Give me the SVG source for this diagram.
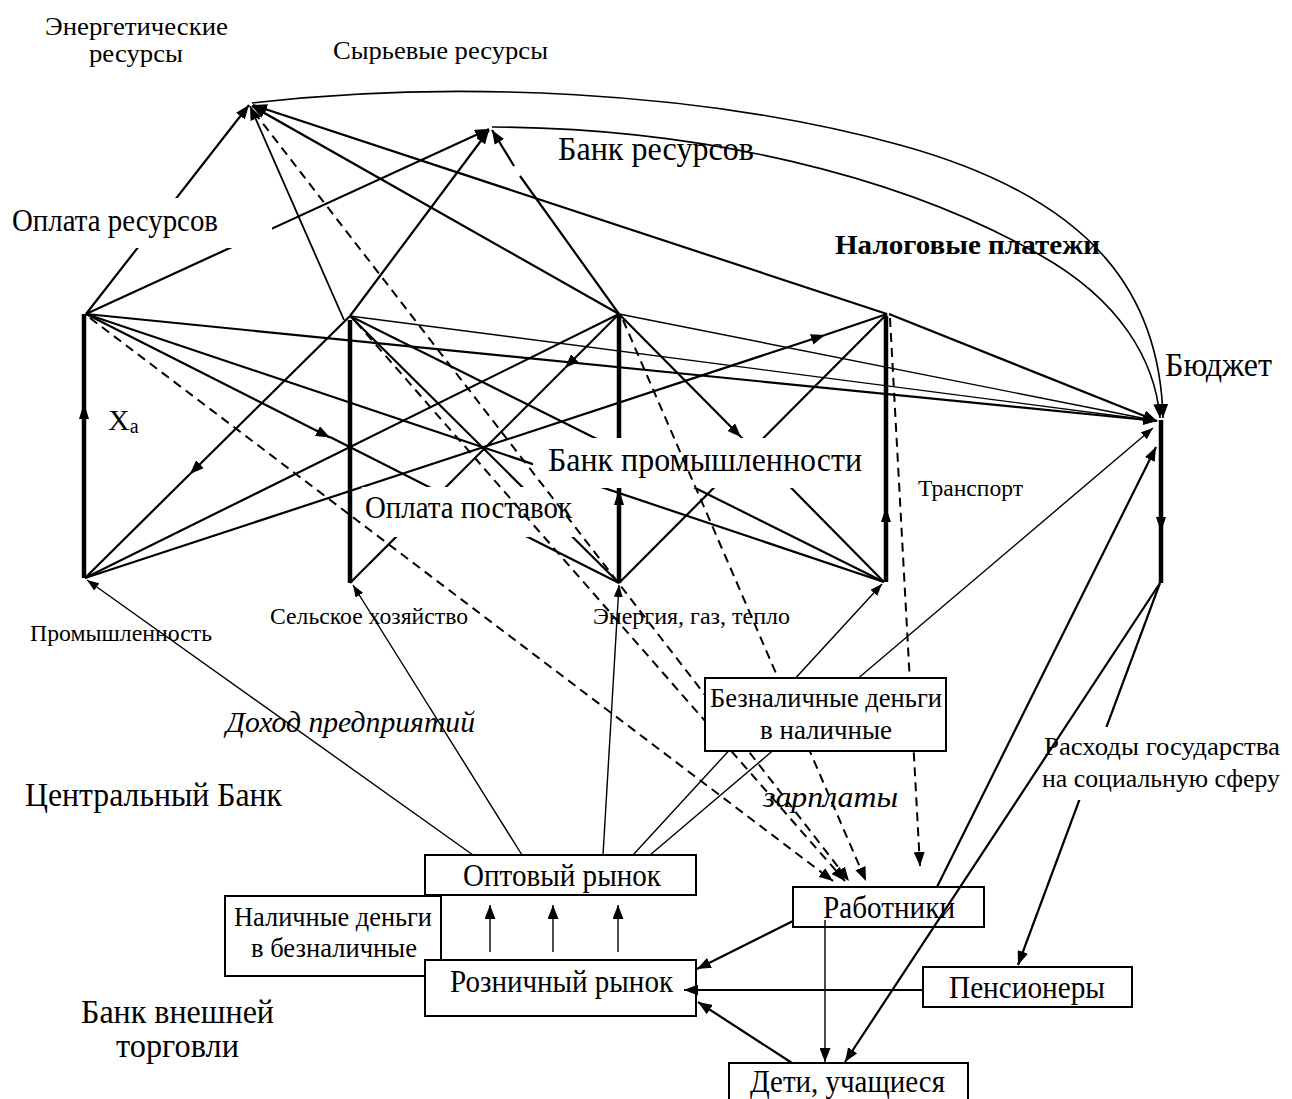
<svg xmlns="http://www.w3.org/2000/svg" width="1292" height="1099" viewBox="0 0 1292 1099">
  <style>
    text { font-family: 'Liberation Serif', 'Times New Roman', serif; fill: #000; }
    .c { fill: none; stroke: #000; stroke-width: 2.2; }
    .m { fill: none; stroke: #000; stroke-width: 1.8; }
    .t { fill: none; stroke: #000; stroke-width: 1.4; }
    .d { fill: none; stroke: #000; stroke-width: 2; stroke-dasharray: 9 6; }
    .arc { fill: none; stroke: #000; stroke-width: 1.6; }
    .bar { fill: none; stroke: #000; stroke-width: 4.5; }
    .box { fill: #fff; stroke: #000; stroke-width: 2; }
    .mask { fill: #fff; stroke: none; }
  </style>
  <defs>
    <marker id="arr" markerUnits="userSpaceOnUse" markerWidth="15" markerHeight="11" refX="14" refY="5.5" orient="auto">
      <path d="M0,0 L14,5.5 L0,11 z" fill="#000"/>
    </marker>
    <marker id="arrS" markerUnits="userSpaceOnUse" markerWidth="13" markerHeight="9" refX="12" refY="4.5" orient="auto">
      <path d="M0,0 L12,4.5 L0,9 z" fill="#000"/>
    </marker>
  </defs>
  <rect width="1292" height="1099" fill="#fff"/>

  <!-- solid flows between sectors, resources and the budget -->
  <g id="connectors">
    <path class="c" d="M86,314 L249,105" marker-end="url(#arr)"/>
    <path class="c" d="M86,314 L489,129" marker-end="url(#arr)"/>
    <path class="m" d="M344,320 L250,106" marker-end="url(#arr)"/>
    <path class="c" d="M350,316 L489,130" marker-end="url(#arr)"/>
    <path class="c" d="M619,314 L252,106" marker-end="url(#arr)"/>
    <path class="c" d="M619,314 L520,176"/>
    <path class="c" d="M514,166 L492,130" marker-end="url(#arr)"/>
    <path class="c" d="M887,314 L253,105" marker-end="url(#arr)"/>
    <path class="c" d="M86,314 L1157,421" marker-end="url(#arr)"/>
    <path class="t" d="M350,316 L1157,421" marker-end="url(#arrS)"/>
    <path class="t" d="M619,314 L1157,421" marker-end="url(#arrS)"/>
    <path class="c" d="M889,314 L1157,421" marker-end="url(#arr)"/>
    <path class="c" d="M86,314 L330,437.5" marker-end="url(#arr)"/>
    <path class="c" d="M330,437 L619,583"/>
    <path class="c" d="M86,314 L884,582"/>
    <path class="c" d="M350,316 L190,474" marker-end="url(#arr)"/>
    <path class="c" d="M190,474 L85,578"/>
    <path class="c" d="M85,578 L619,314"/>
    <path class="c" d="M85,578 L825,335" marker-end="url(#arr)"/>
    <path class="c" d="M825,335 L887,314"/>
    <path class="c" d="M619,314 L565,368" marker-end="url(#arr)"/>
    <path class="c" d="M565,368 L350,583"/>
    <path class="c" d="M619,314 L741,437" marker-end="url(#arr)"/>
    <path class="c" d="M741,437 L884,582"/>
    <path class="c" d="M350,316 L619,583"/>
    <path class="c" d="M350,316 L884,582"/>
    <path class="c" d="M619,583 L887,314"/>
    <path class="t" d="M473,855 L87,580" marker-end="url(#arrS)"/>
    <path class="t" d="M522,855 L353,585" marker-end="url(#arrS)"/>
    <path class="t" d="M603,855 L619,585" marker-end="url(#arrS)"/>
    <path class="t" d="M633,855 L882,584" marker-end="url(#arrS)"/>
    <path class="t" d="M650,855 L1153,428" marker-end="url(#arrS)"/>
    <path class="c" d="M937,887 L1156,447" marker-end="url(#arr)"/>
    <path class="c" d="M1160,583 L1018,965" marker-end="url(#arr)"/>
    <path class="arc" d="M252,103 C450,80 700,90 900,145 S1160,300 1163,418" marker-end="url(#arr)"/>
    <path class="arc" d="M492,127 C700,128 900,175 1040,255 C1120,300 1155,360 1160,418" marker-end="url(#arr)"/>
  </g>

  <!-- sector columns -->
  <g id="industry">
    <path class="bar" d="M84,314 L84,578"/>
    <polygon points="84,403 79,419 89,419"/>
    <text x="30" y="641" font-size="24" textLength="182" lengthAdjust="spacingAndGlyphs">Промышленность</text>
    <text x="108" y="430" font-size="30">X<tspan font-size="20" dy="3">a</tspan></text>
  </g>
  <g id="agriculture">
    <path class="bar" d="M350,320 L350,583"/>
    <text x="270" y="624" font-size="24" textLength="198" lengthAdjust="spacingAndGlyphs">Сельское хозяйство</text>
  </g>
  <g id="energy">
    <path class="bar" d="M619,316 L619,583"/>
    <text x="593" y="624" font-size="24" textLength="197" lengthAdjust="spacingAndGlyphs">Энергия, газ, тепло</text>
  </g>
  <g id="transport">
    <path class="bar" d="M886,316 L886,582"/>
    <polygon points="886,507 881,522 891,522"/>
    <text x="918" y="496" font-size="24" textLength="105" lengthAdjust="spacingAndGlyphs">Транспорт</text>
  </g>
  <g id="budget">
    <path class="bar" d="M1161,420 L1161,583"/>
    <polygon points="1161,532 1156,517 1166,517"/>
    <text x="1165" y="376" font-size="34" textLength="107" lengthAdjust="spacingAndGlyphs">Бюджет</text>
  </g>

  <!-- label backgrounds that interrupt the lines -->
  <g id="label-backs">
    <rect class="mask" x="0" y="198" width="272" height="50"/>
    <rect class="mask" x="533" y="438" width="337" height="50"/>
    <rect class="mask" x="362" y="487" width="214" height="50"/>
    <rect class="mask" x="1042" y="727" width="250" height="73"/>
  </g>
  <polygon points="619,489 614,505 624,505"/>

  <!-- wage flows to workers -->
  <g id="wage-connectors">
    <path class="d" d="M90,318 L833,881" marker-end="url(#arr)"/>
    <path class="d" d="M254,112 L849,881" marker-end="url(#arr)"/>
    <path class="d" d="M356,322 L845,881" marker-end="url(#arr)"/>
    <path class="d" d="M623,320 L866,881" marker-end="url(#arr)"/>
    <path class="d" d="M890,318 L920,866" marker-end="url(#arr)"/>
  </g>

  <!-- resources -->
  <g id="energy-resources">
    <text x="45" y="35" font-size="26" textLength="183" lengthAdjust="spacingAndGlyphs">Энергетические</text>
    <text x="89" y="62" font-size="26" textLength="94" lengthAdjust="spacingAndGlyphs">ресурсы</text>
  </g>
  <g id="raw-resources">
    <text x="333" y="59" font-size="26" textLength="215" lengthAdjust="spacingAndGlyphs">Сырьевые ресурсы</text>
  </g>

  <!-- free labels -->
  <g id="labels">
    <text x="558" y="160" font-size="33" textLength="196" lengthAdjust="spacingAndGlyphs">Банк ресурсов</text>
    <text x="12" y="231" font-size="31" textLength="206" lengthAdjust="spacingAndGlyphs">Оплата ресурсов</text>
    <text x="835" y="254" font-size="27" font-weight="bold" textLength="265" lengthAdjust="spacingAndGlyphs">Налоговые платежи</text>
    <text x="548" y="471" font-size="34" textLength="314" lengthAdjust="spacingAndGlyphs">Банк промышленности</text>
    <text x="365" y="518" font-size="32" textLength="207" lengthAdjust="spacingAndGlyphs">Оплата поставок</text>
    <text x="226" y="732" font-size="30" font-style="italic" textLength="249" lengthAdjust="spacingAndGlyphs">Доход предприятий</text>
    <text x="25" y="806" font-size="34" textLength="257" lengthAdjust="spacingAndGlyphs">Центральный Банк</text>
    <text x="81" y="1023" font-size="34" textLength="193" lengthAdjust="spacingAndGlyphs">Банк внешней</text>
    <text x="116" y="1057" font-size="34" textLength="123" lengthAdjust="spacingAndGlyphs">торговли</text>
    <text x="763" y="807" font-size="30" font-style="italic" textLength="135" lengthAdjust="spacingAndGlyphs">зарплаты</text>
    <text x="1044" y="755" font-size="26" textLength="236" lengthAdjust="spacingAndGlyphs">Расходы государства</text>
    <text x="1042" y="787" font-size="26" textLength="238" lengthAdjust="spacingAndGlyphs">на социальную сферу</text>
  </g>

  <!-- boxes -->
  <g id="cashless-to-cash">
    <rect class="box" x="705" y="678" width="241" height="73"/>
    <text x="710" y="707" font-size="28" textLength="232" lengthAdjust="spacingAndGlyphs">Безналичные деньги</text>
    <text x="760" y="739" font-size="28" textLength="132" lengthAdjust="spacingAndGlyphs">в наличные</text>
  </g>
  <g id="wholesale">
    <rect class="box" x="425" y="855" width="271" height="40"/>
    <text x="463" y="886" font-size="31" textLength="198" lengthAdjust="spacingAndGlyphs">Оптовый рынок</text>
  </g>
  <g id="cash-to-cashless">
    <rect class="box" x="225" y="896" width="216" height="80"/>
    <text x="234" y="926" font-size="28" textLength="198" lengthAdjust="spacingAndGlyphs">Наличные деньги</text>
    <text x="251" y="957" font-size="28" textLength="166" lengthAdjust="spacingAndGlyphs">в безналичные</text>
  </g>
  <g id="retail">
    <rect class="box" x="425" y="960" width="271" height="56"/>
    <text x="450" y="992" font-size="31" textLength="223" lengthAdjust="spacingAndGlyphs">Розничный рынок</text>
  </g>
  <g id="workers">
    <rect class="box" x="793" y="887" width="191" height="40"/>
    <text x="823" y="918" font-size="31" textLength="132" lengthAdjust="spacingAndGlyphs">Работники</text>
  </g>
  <g id="pensioners">
    <rect class="box" x="923" y="967" width="209" height="40"/>
    <text x="949" y="998" font-size="31" textLength="156" lengthAdjust="spacingAndGlyphs">Пенсионеры</text>
  </g>
  <g id="children">
    <rect class="box" x="729" y="1063" width="239" height="50"/>
    <text x="750" y="1092" font-size="31" textLength="195" lengthAdjust="spacingAndGlyphs">Дети, учащиеся</text>
  </g>

  <!-- household flows -->
  <g id="household-connectors">
    <path class="c" d="M1160,583 L845,1062" marker-end="url(#arr)"/>
    <path class="c" d="M793,921 L697,969" marker-end="url(#arr)"/>
    <path class="c" d="M923,990 L684,990" marker-end="url(#arr)"/>
    <path class="c" d="M792,1063 L698,1002" marker-end="url(#arr)"/>
    <path class="t" d="M825,920 L825,1062" marker-end="url(#arr)"/>
    <path class="t" d="M490,952 L490,905" marker-end="url(#arr)"/>
    <path class="t" d="M553,952 L553,905" marker-end="url(#arr)"/>
    <path class="t" d="M618,952 L618,905" marker-end="url(#arr)"/>
  </g>
</svg>
